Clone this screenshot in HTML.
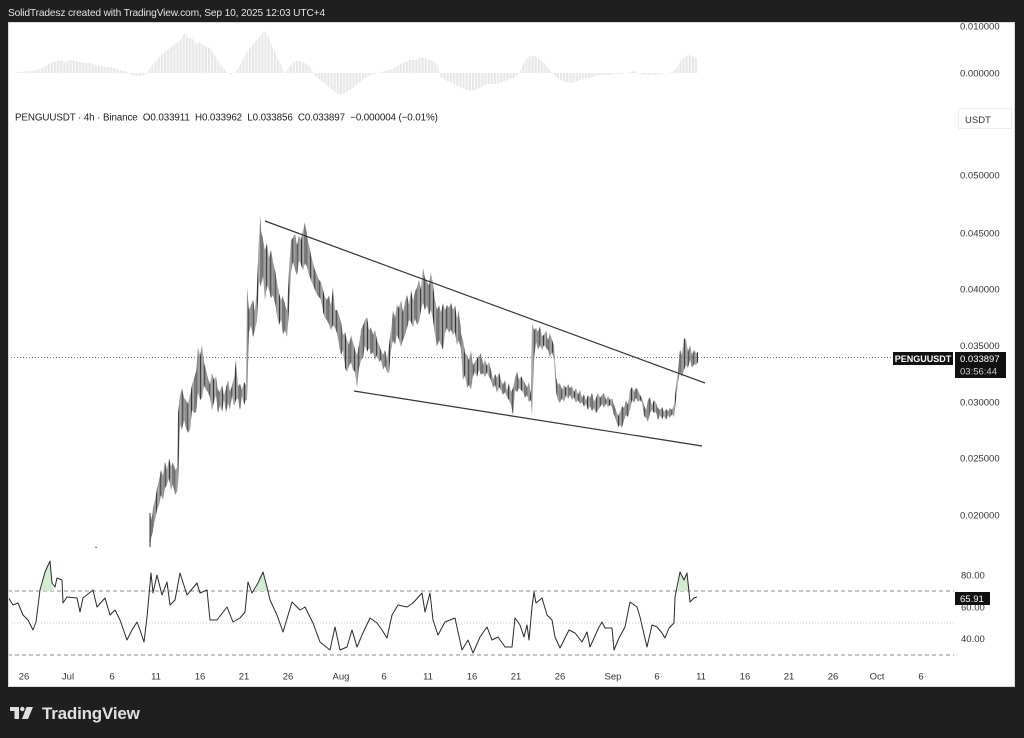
<!DOCTYPE html>
<html><head><meta charset="utf-8">
<style>
html,body{margin:0;padding:0;background:#1f1f1f;width:1024px;height:738px;overflow:hidden}
svg{display:block}
text{font-family:"Liberation Sans",sans-serif}
</style></head><body>
<svg width="1024" height="738" viewBox="0 0 1024 738" xmlns="http://www.w3.org/2000/svg">
<defs>
  <clipPath id="cp"><rect x="8" y="22" width="1007" height="665"/></clipPath>
  <pattern id="cand" patternUnits="userSpaceOnUse" x="150" y="0" width="4.4" height="10">
    <rect x="0" y="0" width="1.15" height="10" fill="#7a7a7a"/>
    <rect x="1.47" y="0" width="1.15" height="10" fill="#2a2a2a"/>
    <rect x="2.93" y="0" width="1.15" height="10" fill="#858585"/>
  </pattern>
  <pattern id="hist" patternUnits="userSpaceOnUse" x="10" y="0" width="1.4667" height="10">
    <rect x="0" y="0" width="0.6" height="10" fill="#d4d4d4"/>
  </pattern>
</defs>
<rect width="1024" height="738" fill="#1f1f1f"/>
<text x="8" y="16" fill="#e2e2e2" font-size="10.2" letter-spacing="-0.15">SolidTradesz created with TradingView.com, Sep 10, 2025 12:03 UTC+4</text>
<rect x="8" y="22" width="1007" height="665" fill="#ffffff"/>
<g clip-path="url(#cp)">
  <!-- histogram -->
  <polygon fill="url(#hist)" points="10,73 20,72 30,71 40,69 45,67 50,63 55,61 60,60 65,62 70,60 75,61 80,62 85,63 90,63 95,65 100,66 105,67 110,67 115,68 120,70 125,71 130,74 135,76 140,76 145,75 150,68 155,62 160,56 165,52 170,48 175,44 180,40 185,33 188,38 192,38 196,44 200,42 205,46 210,48 215,56 220,64 225,70 230,75 235,72 240,66 245,55 250,48 255,42 258,38 262,34 265,31 268,36 272,46 276,55 280,63 285,74 290,66 295,61 300,61 305,63 310,67 315,76 320,80 325,84 330,88 335,92 340,95 345,93 350,90 355,86 360,82 365,78 370,75 375,74 380,72 385,71 390,70 395,68 400,64 405,62 410,60 415,60 420,58 425,58 430,60 435,62 438,66 440,77 445,80 450,82 455,85 460,87 465,89 470,91 475,90 480,88 485,85 490,84 495,84 500,83 505,81 510,79 515,77 520,72 525,60 530,56 535,56 540,60 545,64 550,70 555,76 560,80 565,82 570,83 575,82 580,80 585,79 590,78 595,76 600,75 605,75 610,75 615,74 620,74 625,73 630,72 635,71 640,74 645,75 650,75 655,75 660,74 665,73 670,73 675,70 678,66 681,60 684,57 688,55 692,56 697,58 697,73"/>
  <text x="960" y="29.5" font-size="9.5" fill="#333">0.010000</text>
  <text x="960" y="76.5" font-size="9.5" fill="#333">0.000000</text>

  <!-- legend -->
  <text x="15" y="120.5" font-size="9.8" fill="#222" letter-spacing="-0.1" style="white-space:pre" xml:space="preserve">PENGUUSDT · 4h · Binance  O0.033911  H0.033962  L0.033856  C0.033897  −0.000004 (−0.01%)</text>
  <rect x="958.5" y="108.5" width="53" height="20" fill="#fff" stroke="#eeeeee"/>
  <text x="965" y="123" font-size="9.5" fill="#333">USDT</text>

  <!-- price axis -->
  <g font-size="9.5" fill="#333">
    <text x="960" y="178.5">0.050000</text>
    <text x="960" y="236.5">0.045000</text>
    <text x="960" y="292.5">0.040000</text>
    <text x="960" y="349">0.035000</text>
    <text x="960" y="405.5">0.030000</text>
    <text x="960" y="461.5">0.025000</text>
    <text x="960" y="518.5">0.020000</text>
  </g>

  <!-- current price line -->
  <line x1="8" y1="357.5" x2="893" y2="357.5" stroke="#555" stroke-width="0.8" stroke-dasharray="1,2"/>

  <!-- candles (band) -->
  <polygon fill="url(#cand)" points="150,513 151.5,520 153,508 155,500 157,488 159,480 161,470 163,476 165,462 167,470 169,458 171,466 173,462 175,470 177,468 178,413 180,395 182,388 184,398 186,400 188,404 190,395 192,385 194,378 196,372 198,347 200,356 202,345 204,362 206,370 208,378 210,385 212,373 214,380 216,376 218,390 220,392 222,385 224,395 226,388 228,380 230,392 232,385 234,378 236,360 238,386 240,384 242,390 244,382 246,385 247,287 249,310 251,305 253,300 255,312 257,285 258.5,250 260,215 261.5,232 263,240 265,250 267,243 269,258 271,250 273,262 275,270 277,282 279,293 281,300 283,296 285,305 287,310 289,270 291,240 293,238 295,233 297,245 299,235 301,240 303,230 305,222 307,236 309,245 311,255 313,263 315,270 317,275 319,280 321,282 323,290 325,297 327,300 329,295 331,305 333,287 335,310 337,310 339,315 341,322 343,335 345,332 347,340 349,345 351,335 353,342 355,350 357,355 359,345 361,330 363,325 365,320 367,317 369,330 371,327 373,335 375,330 377,340 379,345 381,350 383,355 385,350 387,360 389,345 391,330 393,310 395,318 397,305 399,308 401,300 403,312 405,302 407,295 409,305 411,290 413,300 415,292 417,287 419,280 421,290 423,268 425,278 427,282 429,285 431,272 433,285 435,300 437,310 439,305 441,312 443,303 445,310 447,305 449,308 451,303 453,310 455,305 457,318 459,310 461,333 463,340 465,353 467,355 469,360 471,350 473,365 475,362 477,358 479,356 481,353 483,365 485,360 487,366 489,362 491,370 493,380 495,374 497,378 499,372 501,380 503,385 505,380 507,390 509,383 511,392 513,388 515,378 517,372 519,380 521,376 523,380 525,383 527,388 529,382 531,395 532,323 534,330 536,328 538,332 540,326 542,336 544,335 546,330 548,340 550,333 552,340 554,345 556,377 558,385 560,383 562,390 564,385 566,388 568,384 570,388 572,386 574,392 576,388 578,395 580,390 582,398 584,394 586,400 588,395 590,398 592,393 594,402 596,398 598,393 600,398 602,395 604,393 606,400 608,396 610,400 612,398 614,405 616,410 618,416 620,412 622,406 624,408 626,400 628,405 630,390 632,387 634,392 636,388 638,390 640,395 642,398 644,405 646,410 648,400 650,397 652,405 654,400 656,403 658,408 660,410 662,407 664,412 666,409 668,411 670,408 672,410 674,405 676,387 678,370 680,350 682,355 684,338 686,340 688,352 690,345 692,355 694,350 696,353 698,352 698,362 696,365 694,364 692,368 690,360 688,368 686,365 684,370 682,377 680,372 678,382 676,400 674,417 672,414 670,418 668,415 666,420 664,416 662,419 660,415 658,420 656,412 654,413 652,410 650,413 648,422 646,418 644,416 642,403 640,400 638,402 636,398 634,403 632,400 630,410 628,417 626,415 624,420 622,428 620,425 618,427 616,420 614,415 612,407 610,405 608,407 606,403 604,408 602,404 600,407 598,410 596,413 594,408 592,411 590,406 588,410 586,404 584,407 582,402 580,404 578,400 576,403 574,397 572,400 570,395 568,399 566,395 564,402 562,398 560,403 558,400 556,392 554,360 552,352 550,358 548,350 546,348 544,345 542,350 540,345 538,350 536,342 534,360 532,416 531,400 529,402 527,395 525,398 523,392 521,390 519,388 517,392 515,390 513,415 511,405 509,400 507,397 505,392 503,395 501,390 499,387 497,393 495,385 493,388 491,380 489,377 487,372 485,377 483,373 481,375 479,370 477,377 475,372 473,376 471,390 469,385 467,388 465,375 463,380 461,350 459,340 457,345 455,332 453,335 451,330 449,333 447,328 445,333 443,350 441,345 439,340 437,347 435,335 433,320 431,310 429,315 427,305 425,310 423,303 421,310 419,322 417,325 415,318 413,327 411,322 409,320 407,328 405,335 403,340 401,347 399,340 397,335 395,345 393,340 391,350 389,373 387,372 385,366 383,370 381,360 379,362 377,355 375,360 373,352 371,355 369,348 367,352 365,345 363,358 361,360 359,368 357,388 355,372 353,370 351,362 349,366 347,372 345,368 343,350 341,355 339,345 337,333 335,328 333,325 331,330 329,325 327,320 325,318 323,312 321,300 319,297 317,295 315,290 313,285 311,280 309,275 307,267 305,263 303,270 301,265 299,260 297,275 295,270 293,262 291,272 289,310 287,337 285,330 283,335 281,320 279,325 277,315 275,303 273,295 271,298 269,290 267,285 265,300 263,275 261,287 259,282 257,320 255,330 253,337 251,325 249,332 247,400 246,400 244,405 242,395 240,410 238,398 236,400 234,406 232,395 230,410 228,403 226,413 224,400 222,412 220,405 218,413 216,395 214,402 212,410 210,398 208,392 206,390 204,385 202,398 200,400 198,392 196,412 194,413 192,410 190,430 188,433 186,428 184,420 182,430 180,425 178,483 177,492 175,495 173,484 171,490 169,478 167,485 165,488 163,500 161,495 159,505 157,510 155,520 153,530 151,540 150,547"/>
  <line x1="150" y1="513" x2="150" y2="547" stroke="#333" stroke-width="1"/>
  <line x1="95" y1="547" x2="97" y2="547.5" stroke="#444" stroke-width="0.8"/>

  <!-- trend lines -->
  <line x1="265" y1="221" x2="705" y2="383" stroke="#333" stroke-width="1.2"/>
  <line x1="354" y1="391" x2="702" y2="446" stroke="#333" stroke-width="1.2"/>

  <!-- price labels -->
  <rect x="893" y="352" width="60" height="13" fill="#111"/>
  <text x="923" y="361.8" font-size="9" fill="#fff" text-anchor="middle" font-weight="bold">PENGUUSDT</text>
  <rect x="955" y="352" width="51" height="26" fill="#111"/>
  <text x="960" y="362" font-size="9.5" fill="#fff">0.033897</text>
  <text x="960" y="374.5" font-size="9.5" fill="#cfcfcf">03:56:44</text>

  <!-- RSI -->
  <line x1="8" y1="591" x2="954" y2="591" stroke="#666" stroke-width="0.8" stroke-dasharray="4,3"/>
  <line x1="8" y1="623" x2="954" y2="623" stroke="#bbb" stroke-width="0.7" stroke-dasharray="1,2"/>
  <line x1="8" y1="655" x2="954" y2="655" stroke="#666" stroke-width="0.8" stroke-dasharray="4,3"/>
  <polygon points="41,591 45,572 50,561 52,583 53,591" fill="#d3ead3"/>
  <polygon points="255,591 258,583 263,572 267,587 268,591" fill="#d3ead3"/>
  <polygon points="678,591 680,572 684,580 687,573 690,591" fill="#d3ead3"/>
  <polyline fill="none" stroke="#2a2a2a" stroke-width="1" stroke-linejoin="round" points="8,597 13,605 18,603 23,615 28,620 33,630 36,622 40,590 45,572 50,561 52,583 55,587 57,578 62,580 63,603 67,597 77,598 80,612 83,598 93,590 97,607 105,598 110,615 115,610 120,620 127,640 132,630 137,622 140,630 144,642 147,617 151,573 153,593 157,575 162,595 167,582 170,605 175,600 180,573 187,595 197,583 200,593 207,590 210,620 217,620 227,607 233,622 240,618 245,612 248,582 252,593 258,583 263,572 267,587 270,600 277,615 283,632 292,602 300,610 305,607 313,623 320,642 330,650 335,627 340,650 347,647 352,630 357,647 362,635 370,618 377,623 382,630 387,638 392,615 398,605 407,607 413,603 422,593 425,612 430,593 433,620 438,635 445,622 455,618 462,650 468,640 473,653 480,637 487,627 492,640 498,637 505,647 512,647 515,618 520,625 524,637 527,625 529,640 532,607 534,592 536,603 542,598 547,615 552,620 555,637 560,648 565,638 569,630 575,633 582,642 587,632 590,647 599,627 602,622 605,628 612,628 614,650 619,638 625,627 630,602 637,607 640,617 647,647 652,625 657,627 662,633 665,638 669,628 674,623 675,597 680,572 684,580 687,573 690,602 694,598 697,597"/>
  <g font-size="9.5" fill="#333">
    <text x="961" y="578.5">80.00</text>
    <text x="961" y="610.5">60.00</text>
    <text x="961" y="642">40.00</text>
  </g>
  <rect x="955" y="592" width="35" height="13" fill="#111"/>
  <text x="960" y="602" font-size="9.5" fill="#fff">65.91</text>

  <!-- time axis -->
  <g font-size="9.5" fill="#333" text-anchor="middle">
    <text x="24" y="679.5">26</text>
    <text x="68" y="679.5">Jul</text>
    <text x="112" y="679.5">6</text>
    <text x="156" y="679.5">11</text>
    <text x="200" y="679.5">16</text>
    <text x="244" y="679.5">21</text>
    <text x="288" y="679.5">26</text>
    <text x="341" y="679.5">Aug</text>
    <text x="384" y="679.5">6</text>
    <text x="428" y="679.5">11</text>
    <text x="472" y="679.5">16</text>
    <text x="516" y="679.5">21</text>
    <text x="560" y="679.5">26</text>
    <text x="613" y="679.5">Sep</text>
    <text x="657" y="679.5">6</text>
    <text x="701" y="679.5">11</text>
    <text x="745" y="679.5">16</text>
    <text x="789" y="679.5">21</text>
    <text x="833" y="679.5">26</text>
    <text x="877" y="679.5">Oct</text>
    <text x="921" y="679.5">6</text>
  </g>
</g>
<rect x="8.5" y="22.5" width="1006" height="664" fill="none" stroke="#d8d8d8" stroke-width="1"/>

<!-- TradingView logo -->
<g fill="#e0e0e0">
  <path d="M10 707 H19 V719 H14.5 V711 H10 Z"/>
  <circle cx="22.3" cy="709" r="2.2"/>
  <path d="M26.5 707 H33 L28 719 H22 Z"/>
</g>
<text x="42" y="719" font-size="17" font-weight="bold" fill="#e0e0e0" letter-spacing="-0.2">TradingView</text>
</svg>
</body></html>
